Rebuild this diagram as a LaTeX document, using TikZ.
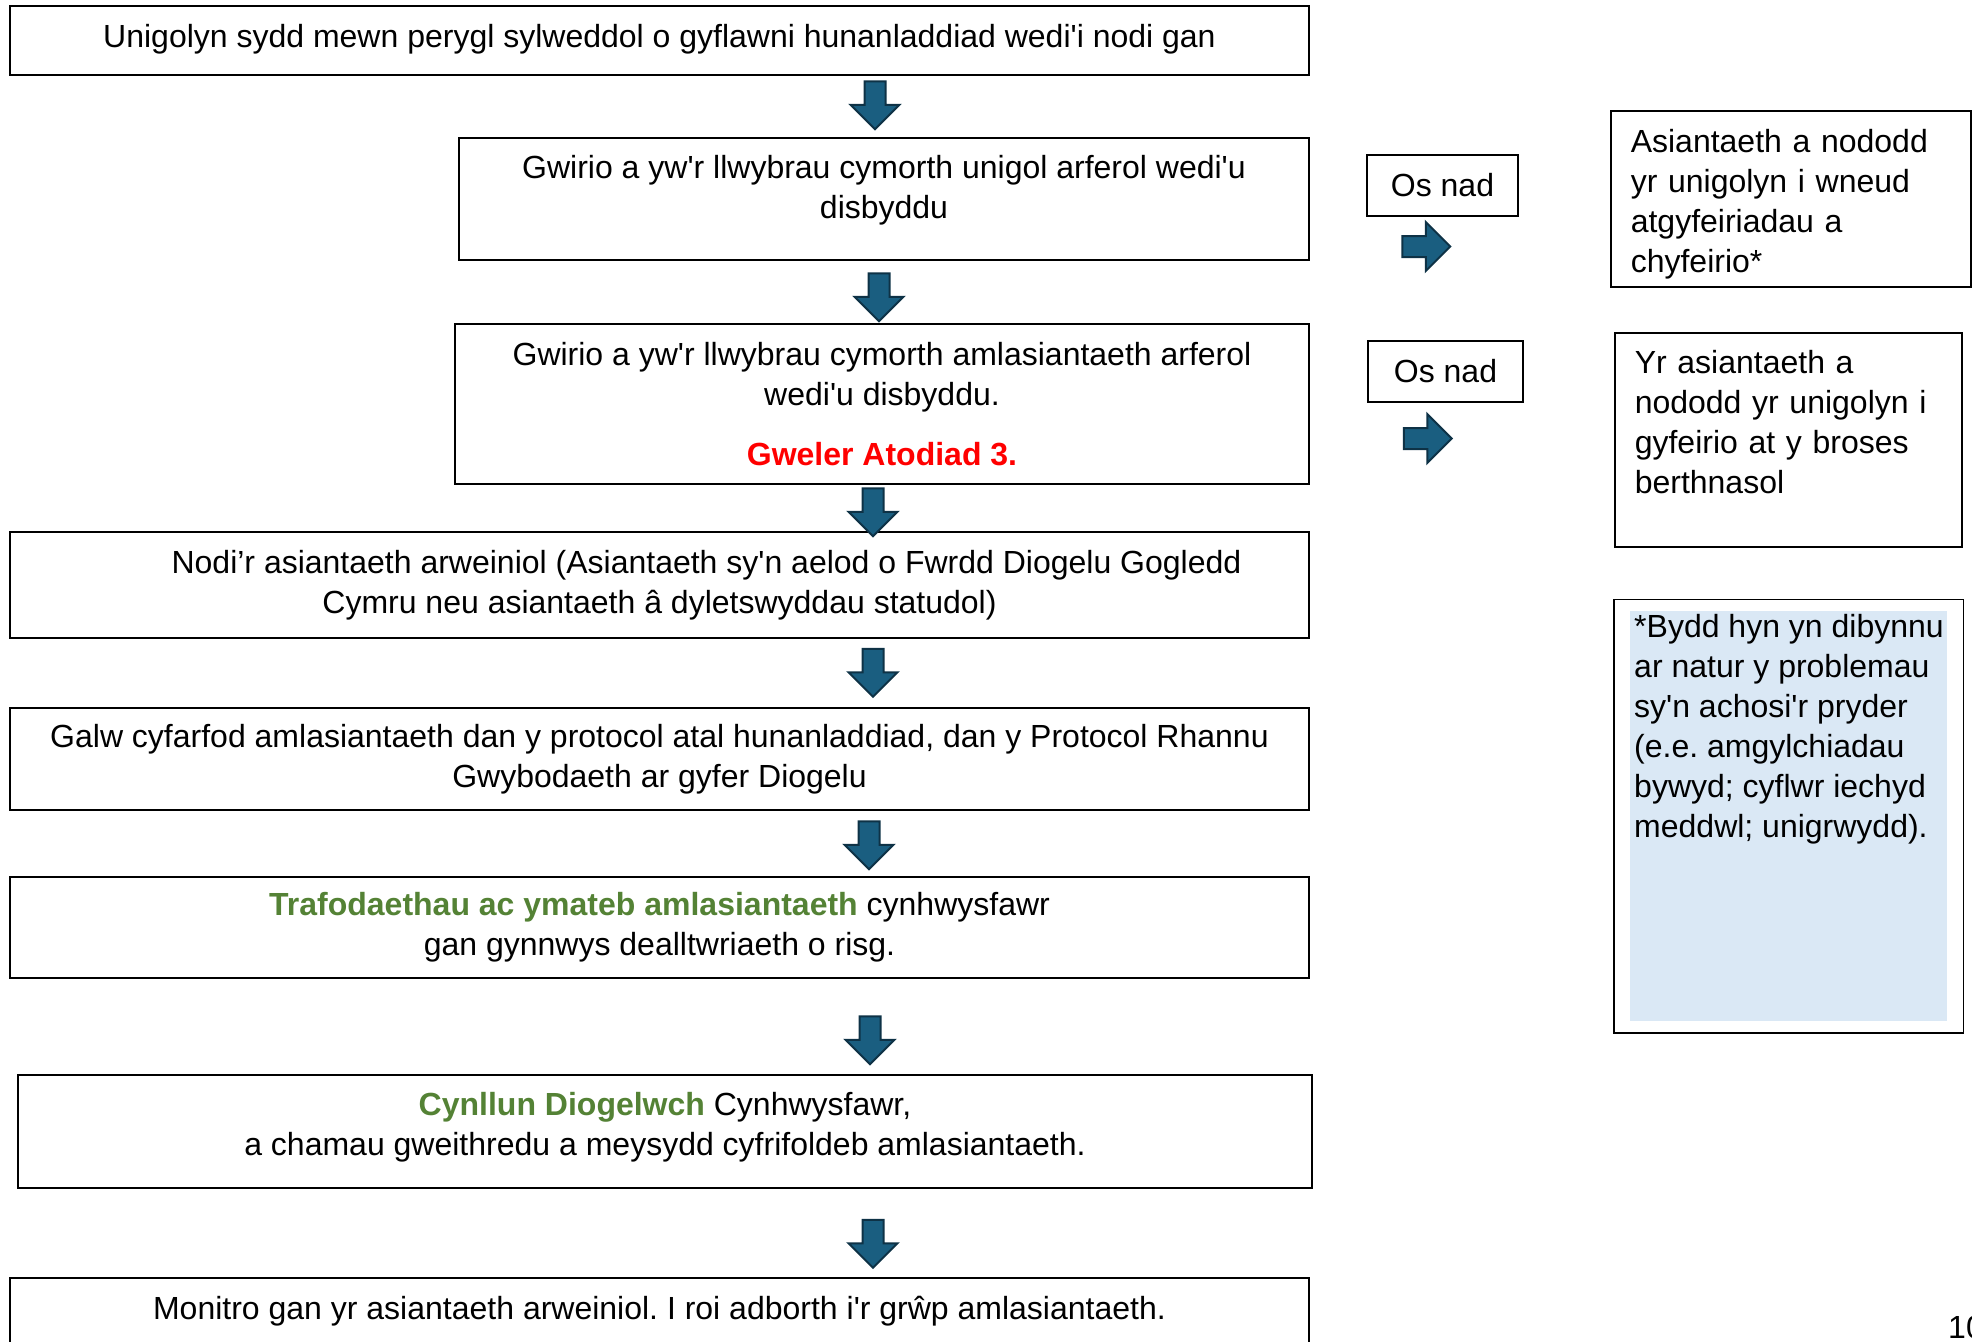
\documentclass[tikz,border=0pt]{standalone}
\usepackage{fontspec}
\setmainfont{Liberation Sans}[Ligatures=TeXOff]
\usepackage{tikz}
\usetikzlibrary{shapes,arrows,fit}

\definecolor{arrowfill}{RGB}{26,94,128}
\definecolor{arrowline}{RGB}{14,50,70}
\definecolor{notefill}{RGB}{218,232,245}
\definecolor{keygreen}{RGB}{84,130,53}

\begin{document}
\begin{tikzpicture}[x=1pt,y=-1pt,font=\fontsize{32}{40}\selectfont\frenchspacing]
  \tikzstyle{box}=[rectangle,draw=black,line width=1.5pt,align=center,inner sep=0pt]
  \tikzstyle{sidebox}=[rectangle,draw=black,line width=1.5pt,align=left,
        inner xsep=20pt,inner ysep=0pt,anchor=west]
  \tikzstyle{down}=[single arrow,shape border rotate=270,draw=arrowline,fill=arrowfill,
        line width=2pt,minimum height=48pt,inner sep=9.5pt,
        single arrow head extend=14pt,single arrow head indent=0pt]
  \tikzstyle{across}=[down,shape border rotate=0]
  \useasboundingbox (0,0) rectangle (1972,1341);

  % main column
  \node [box,minimum width=1299pt,minimum height=69pt] (start) at (659.5,40.5)
    {Unigolyn sydd mewn perygl sylweddol o gyflawni hunanladdiad wedi'i nodi gan\\[-30pt]\mbox{}};
  \node [box,minimum width=850pt,minimum height=122pt] (single) at (884,199)
    {Gwirio a yw'r llwybrau cymorth unigol arferol wedi'u\\disbyddu\\[-16pt]\mbox{}};
  \node [box,minimum width=854pt,minimum height=160pt] (multi) at (882,404)
    {Gwirio a yw'r llwybrau cymorth amlasiantaeth arferol\\wedi'u disbyddu.\\[20pt]
     \textcolor{red}{\textbf{Gweler Atodiad 3.}}};
  \node [box,minimum width=1299pt,minimum height=106pt] (lead) at (659.5,585)
    {\hspace*{94pt}Nodi’r asiantaeth arweiniol (Asiantaeth sy'n aelod o Fwrdd Diogelu Gogledd\\
     Cymru neu asiantaeth â dyletswyddau statudol)};
  \node [box,minimum width=1299pt,minimum height=102pt] (meeting) at (659.5,759)
    {Galw cyfarfod amlasiantaeth dan y protocol atal hunanladdiad, dan y Protocol Rhannu\\
     Gwybodaeth ar gyfer Diogelu};
  \node [box,minimum width=1299pt,minimum height=101pt] (talks) at (659.5,927.5)
    {\textcolor{keygreen}{\textbf{Trafodaethau ac ymateb amlasiantaeth}} cynhwysfawr\\
     gan gynnwys dealltwriaeth o risg.};
  \node [box,minimum width=1294pt,minimum height=113pt] (plan) at (665,1131.5)
    {\textcolor{keygreen}{\textbf{Cynllun Diogelwch}} Cynhwysfawr,\\
     a chamau gweithredu a meysydd cyfrifoldeb amlasiantaeth.\\[-25pt]\mbox{}};
  \node [box,minimum width=1299pt,minimum height=66pt] (monitor) at (659.5,1311)
    {Monitro gan yr asiantaeth arweiniol. I roi adborth i'r grŵp amlasiantaeth.};

  \node [down] (a1) at (875,100) {};
  \node [down] (a2) at (879,292) {};
  \node [down] (a3) at (873,507) {};
  \node [down] (a4) at (873,667.5) {};
  \node [down] (a5) at (869,840) {};
  \node [down] (a6) at (870,1035) {};
  \node [down] (a7) at (873,1238.5) {};

  % side column
  \node [box,minimum width=151pt,minimum height=61pt] (ifnot1) at (1442.5,185.5) {Os nad};
  \node [box,minimum width=155pt,minimum height=61pt] (ifnot2) at (1445.5,371.5) {Os nad};
  \node [across] (r1) at (1421,246.5) {};
  \node [across] (r2) at (1422.5,438.5) {};

  \node [sidebox,text width=320pt,minimum height=176pt] (refer) at (1610,199)
    {\mbox{}\\[-7pt]Asiantaeth a nododd\\yr unigolyn i wneud\\atgyfeiriadau a\\chyfeirio*};
  \node [sidebox,text width=307pt,minimum height=214pt] (process) at (1614,440)
    {Yr asiantaeth a\\nododd yr unigolyn i\\gyfeirio at y broses\\berthnasol\\[-4pt]\mbox{}};

  \node [fill=notefill,anchor=north west,inner sep=0pt,minimum width=317pt,
        minimum height=410pt] (notebg) at (1630,611) {};
  \node [anchor=north west,align=left,inner sep=0pt] (note) at (1634,614)
    {*Bydd hyn yn dibynnu\\ar natur y problemau\\sy'n achosi'r pryder\\(e.e. amgylchiadau\\
     bywyd; cyflwr iechyd\\meddwl; unigrwydd).};
  \node [draw=black,line width=1.5pt,fit=(notebg),inner xsep=16pt,inner ysep=11.5pt] (noteframe) {};

  \node [anchor=west,inner sep=0pt] (pageno) at (1948,1327) {10};
\end{tikzpicture}
\end{document}
